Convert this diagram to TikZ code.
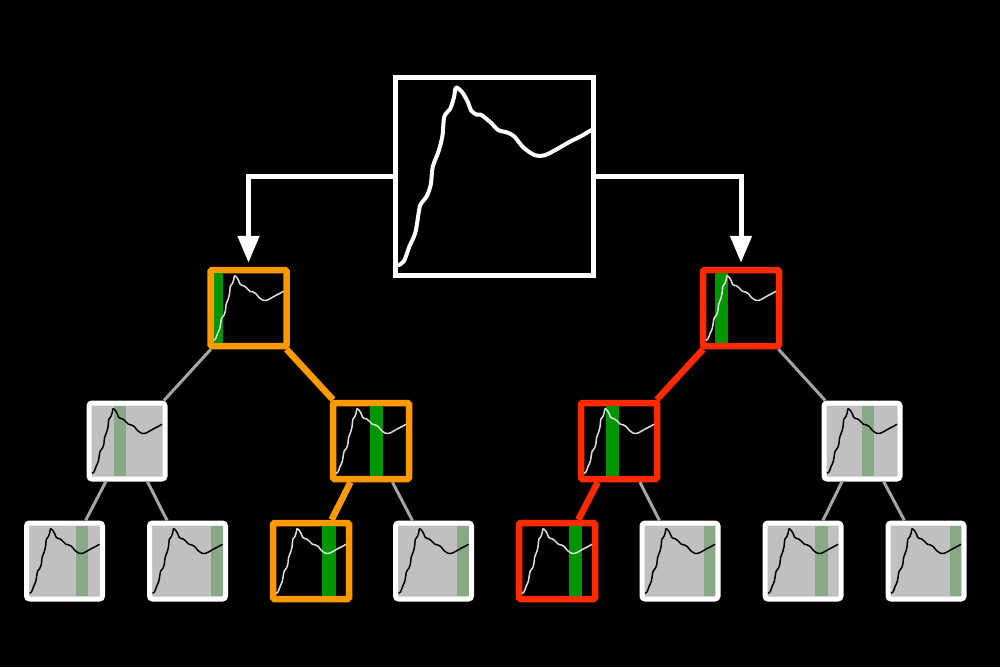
\documentclass[tikz,border=0pt]{standalone}
\usepackage{tikz}
\usetikzlibrary{arrows.meta}

\definecolor{splitorange}{RGB}{255,153,0}
\definecolor{splitred}{RGB}{255,42,0}
\definecolor{bandgreen}{RGB}{0,150,0}
\definecolor{leafgray}{RGB}{192,192,192}
\definecolor{bandgray}{RGB}{136,168,136}
\definecolor{edgegray}{RGB}{165,165,165}

% Kurve im Einheitsquadrat
\newcommand{\curvepath}{plot[smooth, tension=0.5] coordinates {(0.00,0.04) (0.03,0.06) (0.06,0.14) (0.09,0.21) (0.11,0.33) (0.12,0.36) (0.15,0.40) (0.17,0.46) (0.18,0.55) (0.21,0.63) (0.23,0.71) (0.24,0.81) (0.27,0.85) (0.29,0.91) (0.30,0.96) (0.33,0.94) (0.36,0.89) (0.38,0.84) (0.41,0.82) (0.43,0.82) (0.48,0.78) (0.52,0.74) (0.56,0.73) (0.60,0.71) (0.65,0.65) (0.71,0.61) (0.76,0.61) (0.82,0.64) (0.89,0.68) (0.95,0.71) (1.00,0.74)}}
% #1 Knoten, #2 Bandanfang, #3 Bandende, #4 Bandfarbe, #5 Kurvenfarbe
\newcommand{\sparkplot}[5]{%
	\begin{scope}[shift={(#1)}, x=70pt, y=70pt, shift={(-0.5,-0.5)}]
		\fill[#4] (#2,0) rectangle (#3,1);
		\draw[#5, line width=1.5pt, line join=round] \curvepath;
	\end{scope}}

\begin{document}
\begin{tikzpicture}
	[
	x=1pt, y=-1pt,
	plotbox/.style={rectangle, minimum size=76pt, inner sep=0pt, line width=6.5pt, rounded corners=1.5pt, fill=black},
	leafbox/.style={rectangle, minimum size=76pt, inner sep=0pt, line width=5pt, rounded corners=3pt, draw=white, fill=leafgray},
	grayedge/.style={edgegray, line width=3pt},
	splitedge/.style={line width=6.5pt},
	arrowline/.style={white, line width=5pt, -{Triangle[width=21pt, length=27pt]}, shorten >=4pt}
	]
	%Hintergrund
	\fill[black] (0,0) rectangle (1000,667);
	%Wurzel
	\node[rectangle, minimum size=198pt, inner sep=0pt, line width=5pt, draw=white, fill=black] (root) at (494.5,176.5) {};
	\begin{scope}[shift={(root)}, x=193pt, y=193pt, shift={(-0.5,-0.5)}]
		\draw[white, line width=4pt, line cap=round, line join=round] \curvepath;
	\end{scope}
	%Ebene 1
	\node[plotbox, draw=splitorange] (a) at (248.5,308) {};
	\node[plotbox, draw=splitred] (b) at (741,308) {};
	%Ebene 2
	\node[leafbox] (a1) at (127,441) {};
	\node[plotbox, draw=splitorange] (a2) at (371,441) {};
	\node[plotbox, draw=splitred] (b1) at (619,441) {};
	\node[leafbox] (b2) at (862,441) {};
	%Ebene 3
	\node[leafbox] (a11) at (64.5,561) {};
	\node[leafbox] (a12) at (187.5,561) {};
	\node[plotbox, draw=splitorange] (a21) at (311,561) {};
	\node[leafbox] (a22) at (433.5,561) {};
	\node[plotbox, draw=splitred] (b11) at (557,561) {};
	\node[leafbox] (b12) at (680,561) {};
	\node[leafbox] (b21) at (803,561) {};
	\node[leafbox] (b22) at (926,561) {};
	%Kurven mit Fenster
	\sparkplot{a}{0}{0.14}{bandgreen}{white!88!black}
	\sparkplot{b}{0.13}{0.32}{bandgreen}{white!88!black}
	\sparkplot{a1}{0.31}{0.49}{bandgray}{black}
	\sparkplot{a2}{0.49}{0.67}{bandgreen}{white!88!black}
	\sparkplot{b1}{0.32}{0.5}{bandgreen}{white!88!black}
	\sparkplot{b2}{0.5}{0.67}{bandgray}{black}
	\sparkplot{a11}{0.66}{0.84}{bandgray}{black}
	\sparkplot{a12}{0.84}{1}{bandgray}{black}
	\sparkplot{a21}{0.66}{0.85}{bandgreen}{white!88!black}
	\sparkplot{a22}{0.84}{1}{bandgray}{black}
	\sparkplot{b11}{0.67}{0.86}{bandgreen}{white!88!black}
	\sparkplot{b12}{0.84}{1}{bandgray}{black}
	\sparkplot{b21}{0.67}{0.85}{bandgray}{black}
	\sparkplot{b22}{0.84}{1}{bandgray}{black}
	%Kanten
	\draw[grayedge] (a) -- (a1);
	\draw[grayedge] (a1) -- (a11);
	\draw[grayedge] (a1) -- (a12);
	\draw[grayedge] (a2) -- (a22);
	\draw[grayedge] (b) -- (b2);
	\draw[grayedge] (b1) -- (b12);
	\draw[grayedge] (b2) -- (b21);
	\draw[grayedge] (b2) -- (b22);
	\draw[splitedge, splitorange] (a) -- (a2);
	\draw[splitedge, splitorange] (a2) -- (a21);
	\draw[splitedge, splitred] (b) -- (b1);
	\draw[splitedge, splitred] (b1) -- (b11);
	%Pfeile
	\draw[arrowline] (root.west) -| (a.north);
	\draw[arrowline] (root.east) -| (b.north);
\end{tikzpicture}
\end{document}
